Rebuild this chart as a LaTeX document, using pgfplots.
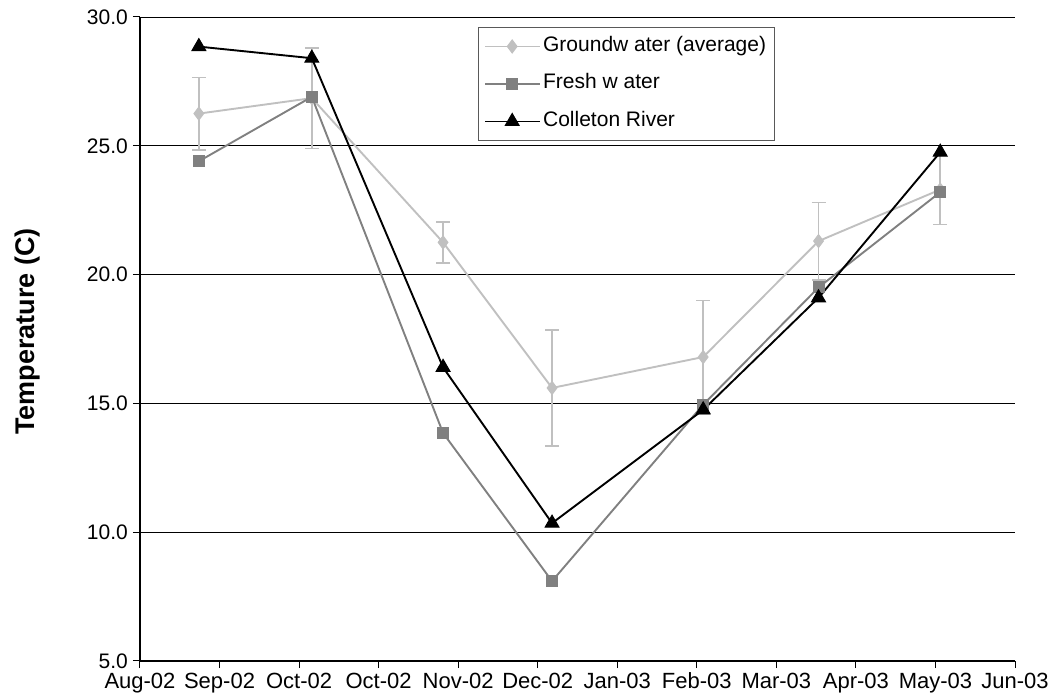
\documentclass[border=0pt]{standalone}
\usepackage{pgfplots}
\pgfplotsset{compat=1.18}
\usepackage{fontspec}
\setmainfont{Liberation Sans}
\definecolor{gwc}{RGB}{192,192,192}
\definecolor{fwc}{RGB}{128,128,128}
\begin{document}
\begin{tikzpicture}
\begin{axis}[
  scale only axis, width=875pt, height=644pt,
  xmin=0, xmax=11, ymin=5, ymax=30,
  xtick={0,...,11},
  xticklabels={Aug-02,Sep-02,Oct-02,Oct-02,Nov-02,Dec-02,Jan-03,Feb-03,Mar-03,Apr-03,May-03,Jun-03},
  ytick={5,10,...,30},
  yticklabel style={/pgf/number format/fixed,/pgf/number format/fixed zerofill,/pgf/number format/precision=1,
    font=\fontsize{21}{25}\selectfont, inner xsep=2pt, xshift=-3pt},
  /pgf/number format/assume math mode=true,
  axis x line*=bottom, axis y line*=left,
  axis line style={black, line width=1.4pt, -},
  tick align=outside, major tick length=7pt,
  tick style={black, line width=1pt},
  ymajorgrids, grid style={black, line width=0.9pt},
  xticklabel style={font=\fontsize{22}{26}\selectfont, text height=16pt, text depth=5pt, inner ysep=2pt, yshift=-2pt},
  ylabel={\textbf{Temperature (C)}},
  every axis y label/.style={at={(axis description cs:-0.128,0.512)}, rotate=90, anchor=center,
    font=\fontsize{27}{31}\selectfont},
  legend style={at={(0.386,0.9845)}, anchor=north west, draw=black!65, line width=1pt,
    font=\fontsize{21}{25}\selectfont, row sep=17.5pt, inner xsep=6pt, inner ysep=9pt,
    nodes={text height=15pt, text depth=5pt, inner ysep=0pt}},
  legend cell align=left,
  legend image code/.code={\draw[#1, mark repeat=2, mark phase=2] plot coordinates {(0pt,0pt) (27pt,0pt) (55pt,0pt)};},
]
\addplot[gwc, line width=1.9pt, mark=diamond*, mark size=6.5pt, mark options={fill=gwc, draw=gwc, line width=1pt},
  error bars/.cd, y dir=both, y explicit,
  error bar style={gwc, line width=1.7pt}, error mark options={gwc, line width=1.7pt, mark size=7pt, rotate=90}]
 coordinates {
 (0.74,26.25) +- (0,1.4)
 (2.16,26.85) +- (0,1.95)
 (3.81,21.25) +- (0,0.8)
 (5.18,15.6) +- (0,2.25)
 (7.08,16.8) +- (0,2.2)
 (8.53,21.3) +- (0,1.5)
 (10.06,23.3) +- (0,1.35)
 };
\addlegendentry{Groundw ater (average)}
\addplot[fwc, line width=1.9pt, mark=square*, mark size=5.5pt, mark options={fill=fwc, draw=fwc, line width=1pt}]
 coordinates {
 (0.74,24.4) (2.16,26.9) (3.81,13.85) (5.18,8.1) (7.08,14.95) (8.53,19.5) (10.06,23.2)
 };
\addlegendentry{Fresh w ater}
\addplot[black, line width=1.9pt, mark=triangle*, mark size=8pt, mark options={fill=black, draw=black, line width=1pt}]
 coordinates {
 (0.74,28.85) (2.16,28.4) (3.81,16.4) (5.18,10.35) (7.08,14.75) (8.53,19.1) (10.06,24.75)
 };
\addlegendentry{Colleton River}
\end{axis}
\path (current axis.south west) ++(-140pt,-37pt) coordinate (bl);
\path (current axis.north east) ++(37pt,17pt) coordinate (tr);
\useasboundingbox (bl) rectangle (tr);
\end{tikzpicture}
\end{document}
